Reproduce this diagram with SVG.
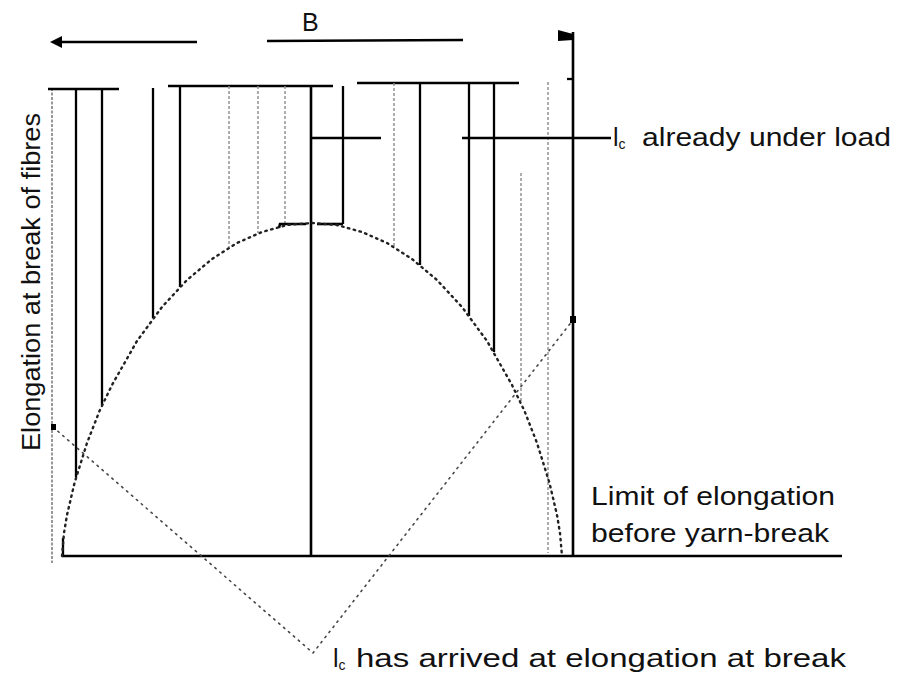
<svg xmlns="http://www.w3.org/2000/svg" width="908" height="673" viewBox="0 0 908 673">
<style>
.bg{fill:#fff}
.solid{stroke:#000;stroke-width:2.3;fill:none}
.bar{stroke:#000;stroke-width:2.6;fill:none}
.light{stroke:#8c8c8c;stroke-width:1.4;stroke-dasharray:3 2;fill:none}
.curve{stroke:#222;stroke-width:2.4;stroke-dasharray:1.5 4.5;stroke-linecap:round;fill:none}
.vline{stroke:#444;stroke-width:1.6;stroke-dasharray:1.5 5;stroke-linecap:round;fill:none}
.axisy{stroke:#777;stroke-width:1.5;stroke-dasharray:3 1.5;fill:none}
.lbl{font-family:"Liberation Sans",Arial,sans-serif;font-size:25px;fill:#111}
.sub{font-size:14px}
</style>
<rect class="bg" x="0" y="0" width="908" height="673"/>

<g id="dimension-B">
  <line class="solid" x1="58" y1="42" x2="197" y2="42"/>
  <polygon points="50,42 62,36 62,48" fill="#000"/>
  <line class="solid" x1="267" y1="41" x2="463" y2="40"/>
  <polygon points="558,30 573,34 573,40 558,41" fill="#000"/>
  <text class="lbl" x="302" y="31" font-size="24">B</text>
</g>

<g id="axes">
  <line class="axisy" x1="52" y1="88" x2="52" y2="563"/>
  <line class="bar" x1="62" y1="556" x2="842" y2="556"/>
  <line class="solid" x1="63" y1="538" x2="63" y2="556"/>
  <text class="lbl" transform="translate(40,451) rotate(-90)" textLength="338" lengthAdjust="spacingAndGlyphs">Elongation at break of fibres</text>
</g>

<g id="fibres">
  <line class="bar" x1="48" y1="89" x2="119" y2="89"/>
  <line class="bar" x1="168" y1="86" x2="333" y2="86"/>
  <line class="bar" x1="357" y1="83" x2="519" y2="83"/>
  <line class="solid" x1="76" y1="89" x2="76" y2="477"/>
  <line class="solid" x1="102" y1="89" x2="102" y2="405"/>
  <line class="solid" x1="153" y1="88" x2="153" y2="318"/>
  <line class="solid" x1="180" y1="86" x2="180" y2="287"/>
  <line class="light" x1="229" y1="86" x2="229" y2="247"/>
  <line class="light" x1="258" y1="86" x2="258" y2="233"/>
  <line class="light" x1="285" y1="86" x2="285" y2="224"/>
  <line class="bar" x1="311" y1="86" x2="311" y2="556"/>
  <line class="solid" x1="343" y1="86" x2="343" y2="224"/>
  <line class="light" x1="394" y1="83" x2="394" y2="247"/>
  <line class="solid" x1="420" y1="83" x2="420" y2="265"/>
  <line class="solid" x1="469" y1="83" x2="469" y2="316"/>
  <line class="solid" x1="494" y1="83" x2="494" y2="352"/>
  <line class="light" x1="521" y1="173" x2="521" y2="403"/>
  <line class="light" x1="548" y1="82" x2="548" y2="553"/>
  <line class="bar" x1="573" y1="32" x2="573" y2="556"/>
  <line class="solid" x1="567" y1="79" x2="573" y2="79"/>
  <path class="bar" d="M279,228 L280,224 L306,224"/>
  <line class="bar" x1="317" y1="224" x2="343" y2="224"/>
</g>

<g id="curve">
  <polyline class="curve" points="62,556 64,533 67,515 74.5,483 87,443 99.5,411 112,385 137,341 162,307 187,280 212,259 237,243 262,232 287,225 312,223 337,225 362,232 387,243 412,259 437,280 462,307 487,341 512,385 524.5,411 537,443 549.5,483 557,515 560,533 562,556"/>
</g>

<g id="connectors">
  <line class="solid" x1="311" y1="138" x2="381" y2="138" stroke-width="1.8"/>
  <line class="solid" x1="462" y1="138" x2="611" y2="138" stroke-width="1.8"/>
  <line class="vline" x1="53" y1="427" x2="313" y2="653"/>
  <line class="vline" x1="313" y1="653" x2="573" y2="320"/>
  <rect x="51" y="424" width="5" height="6" fill="#000"/>
  <rect x="570" y="316" width="6" height="7" fill="#000"/>
</g>

<g id="labels">
  <text class="lbl" x="613" y="146">l<tspan class="sub" dy="3">c</tspan><tspan dy="-3" x="642" textLength="249" lengthAdjust="spacingAndGlyphs">already under load</tspan></text>
  <text class="lbl" x="591" y="505" textLength="244" lengthAdjust="spacingAndGlyphs">Limit of elongation</text>
  <text class="lbl" x="591" y="542" textLength="238" lengthAdjust="spacingAndGlyphs">before yarn-break</text>
  <text class="lbl" x="333" y="667">l<tspan class="sub" dy="3">c</tspan><tspan dy="-3" x="356" textLength="490" lengthAdjust="spacingAndGlyphs">has arrived at elongation at break</tspan></text>
</g>
</svg>
